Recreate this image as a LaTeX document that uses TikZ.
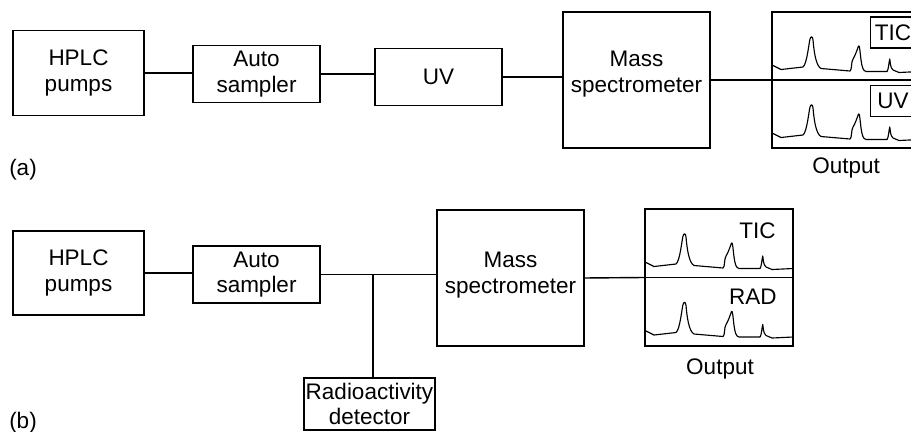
\documentclass[tikz,border=0pt]{standalone}
\usepackage{fontspec}
\setmainfont{Liberation Sans}
\tikzset{
    BOX/.style={draw=black, shape=rectangle, line width=0.8pt, inner sep=0mm,
        align=center, font={\fontsize{12.8}{14.4}\selectfont}},
    SMALL_BOX/.style={BOX, minimum width=2.54cm, minimum height=1.14cm},
    BIG_BOX/.style={BOX, minimum width=2.94cm, minimum height=2.72cm},
    OUT_BOX/.style={BOX, minimum width=2.96cm, minimum height=2.72cm},
    TAG_BOX/.style={BOX, minimum width=0.90cm, minimum height=0.62cm},
    LABEL/.style={inner sep=0mm, align=center, font={\fontsize{12.8}{14.4}\selectfont}},
    EDGE/.style={draw=black, line width=0.8pt},
    TRACE/.style={draw=black, line width=0.65pt, line join=round}
}
\pgfdeclarelayer{edgelayer}
\pgfdeclarelayer{nodelayer}
\pgfsetlayers{edgelayer,nodelayer,main}
% one chromatogram trace, panel top left at the origin
\newcommand{\chromtrace}{
    \draw[TRACE] (0,53) -- (9,57.5) -- (31,55)
        .. controls (35,52) and (37,30) .. (38,27)
        .. controls (39,24) and (40.5,24) .. (41,28)
        .. controls (42,40) and (44,54) .. (49,56.5) -- (78,59)
        .. controls (80,58) and (79,50) .. (81,47)
        .. controls (83,44) and (85,38) .. (86.5,34)
        .. controls (87.5,32) and (88,40) .. (89,48)
        .. controls (90,55) and (91,59) .. (94,59.5) -- (115,59.5)
        .. controls (116.5,58) and (117,49) .. (117.7,47)
        .. controls (118.3,49) and (118,56) .. (121,58)
        -- (127,60.5) -- (148,59.5);
}

\begin{document}
\begin{tikzpicture}
    \clip (0,0) rectangle (18.22,-8.64);
    \begin{pgfonlayer}{nodelayer}
        % (a)
        \node [BOX, minimum width=2.62cm, minimum height=1.70cm] (hplcA) at (1.57, -1.46) {HPLC\\pumps};
        \node [SMALL_BOX] (autoA) at (5.13, -1.48) {Auto\\sampler};
        \node [SMALL_BOX] (uvA) at (8.77, -1.54) {UV};
        \node [BIG_BOX] (msA) at (12.73, -1.60) {};
        \node [LABEL] (msTextA) at (12.73, -1.48) {Mass\\spectrometer};
        \node [OUT_BOX] (outA) at (16.92, -1.60) {};
        \node [TAG_BOX] (ticA) at (17.86, -0.65) {TIC};
        \node [TAG_BOX] (uvTagA) at (17.86, -2.02) {UV};
        \node [LABEL] (outLabelA) at (16.92, -3.36) {Output};
        \node [LABEL] (partA) at (0.46, -3.40) {(a)};
        % (b)
        \node [BOX, minimum width=2.62cm, minimum height=1.68cm] (hplcB) at (1.57, -5.46) {HPLC\\pumps};
        \node [SMALL_BOX] (autoB) at (5.13, -5.49) {Auto\\sampler};
        \node [BIG_BOX] (msB) at (10.21, -5.56) {};
        \node [LABEL] (msTextB) at (10.21, -5.50) {Mass\\spectrometer};
        \node [BOX, minimum width=2.62cm, minimum height=1.04cm] (radio) at (7.39, -8.08) {Radioactivity\\detector};
        \node [BOX, minimum width=2.96cm, minimum height=2.74cm] (outB) at (14.38, -5.55) {};
        \node [LABEL, anchor=east] (ticB) at (15.52, -4.62) {TIC};
        \node [LABEL, anchor=east] (radB) at (15.54, -5.94) {RAD};
        \node [LABEL] (outLabelB) at (14.40, -7.38) {Output};
        \node [LABEL] (partB) at (0.46, -8.46) {(b)};
        \coordinate (split) at (7.46, -5.49);
    \end{pgfonlayer}
    \begin{pgfonlayer}{edgelayer}
        \draw[EDGE] (hplcA.east) to (hplcA.east -| autoA.west);
        \draw[EDGE] (autoA.east) to (autoA.east -| uvA.west);
        \draw[EDGE] (uvA.east) to (uvA.east -| msA.west);
        \draw[EDGE] (msA.east) to (outA.west);
        \draw[EDGE] (outA.west) to (outA.east);
        \draw[EDGE] (hplcB.east) to (hplcB.east -| autoB.west);
        \draw[EDGE] (autoB.east) to (autoB.east -| msB.west);
        \draw[EDGE] (split) to (split |- radio.north);
        \draw[EDGE] (msB.east) to (outB.west);
        \draw[EDGE] (outB.west) to (outB.east);
    \end{pgfonlayer}
    \begin{scope}[shift={(15.44,-0.24)}, x=0.02cm, y=-0.02cm]
        \chromtrace
    \end{scope}
    \begin{scope}[shift={(15.44,-1.60)}, x=0.02cm, y=-0.02cm]
        \chromtrace
    \end{scope}
    \begin{scope}[shift={(12.90,-4.18)}, x=0.02cm, y=-0.02cm]
        \chromtrace
    \end{scope}
    \begin{scope}[shift={(12.90,-5.55)}, x=0.02cm, y=-0.02cm]
        \chromtrace
    \end{scope}
\end{tikzpicture}
\end{document}
